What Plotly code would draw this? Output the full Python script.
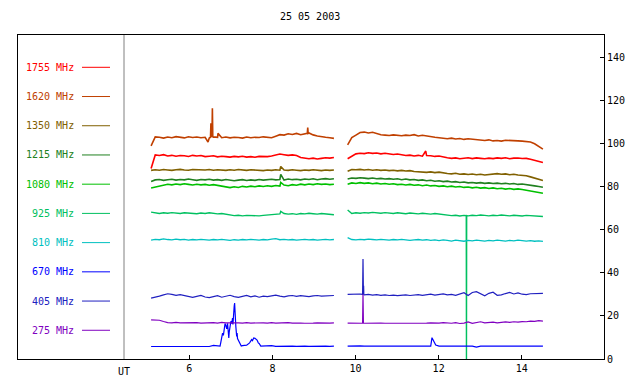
import plotly.graph_objects as go

# ---- time grids (UT hours) for the two observing segments ----
T1 = [round(5.08 + 0.1 * i, 2) for i in range(45)]
T2 = [round(9.81 + 0.1 * i, 2) for i in range(48)]

# ---- series (frequency labels, colours) ----
FREQS = ["1755 MHz", "1620 MHz", "1350 MHz", "1215 MHz", "1080 MHz",
         "925 MHz", "810 MHz", "670 MHz", "405 MHz", "275 MHz"]
COLORS = ["#ff0000", "#c04000", "#806000", "#208020", "#00c000",
          "#00c060", "#00c0c0", "#0000ff", "#2020c0", "#8000c0"]

V1_1755 = [88.5, 94.8, 94.5, 94.9, 94.3, 94.6, 94.2, 94.5, 94.4, 94.1, 94.6, 94.3, 94.5, 94.0, 94.2, 94.4, 93.9, 94.2, 94.0, 93.8, 94.1, 93.9, 94.2, 93.8, 94.0, 93.7, 94.1, 93.9, 94.0, 94.3, 94.8, 95.2, 94.9, 94.6, 94.8, 94.5, 93.6, 93.2, 93.0, 93.3, 92.9, 93.2, 93.5, 93.3, 93.6]
V2_1755 = [93.0, 94.2, 95.3, 95.6, 95.4, 95.8, 95.5, 95.7, 95.3, 95.6, 95.4, 95.0, 95.2, 94.8, 94.5, 94.7, 94.3, 94.6, 94.2, 94.5, 94.4, 94.1, 94.3, 93.8, 93.5, 93.2, 93.4, 93.0, 93.3, 93.5, 93.1, 93.4, 93.2, 93.0, 93.3, 93.1, 93.4, 93.2, 93.5, 93.0, 93.3, 93.4, 93.1, 93.2, 92.8, 92.3, 91.8, 91.3]
X_1755 = [(11.69, 96.6)]

V1_1620 = [99.0, 103.2, 103.0, 102.6, 103.1, 102.8, 103.3, 103.0, 102.7, 103.2, 102.9, 103.1, 102.8, 103.0, 102.6, 103.2, 103.0, 102.8, 103.1, 102.7, 103.0, 102.9, 102.6, 103.1, 102.8, 103.0, 102.9, 103.2, 103.0, 102.8, 103.5, 104.2, 104.0, 104.6, 104.3, 104.8, 104.2, 104.5, 105.0, 104.1, 103.6, 103.2, 103.0, 102.8, 102.5]
V2_1620 = [99.5, 102.8, 104.0, 105.2, 105.4, 105.0, 105.3, 104.6, 104.2, 104.0, 103.8, 104.1, 103.9, 103.7, 104.0, 103.8, 104.2, 103.6, 103.9, 103.5, 103.2, 103.0, 102.8, 102.5, 102.3, 102.6, 102.2, 102.4, 102.0, 102.3, 102.1, 101.8, 101.6, 101.5, 101.8, 101.3, 101.5, 101.2, 101.6, 101.4, 101.5, 101.3, 101.2, 101.0, 100.8, 100.0, 98.8, 97.5]
X_1620 = [(6.45, 100.8), (6.51, 103.0), (6.52, 109.5), (6.53, 103.0), (6.545, 103.0),
          (6.555, 116.5), (6.565, 103.0), (6.69, 104.8), (8.84, 104.8), (8.85, 107.5), (8.86, 104.8)]

V1_1350 = [87.6, 87.9, 87.7, 88.0, 87.8, 87.6, 87.9, 88.1, 87.8, 87.7, 88.0, 87.9, 87.6, 87.8, 88.0, 87.7, 87.9, 87.8, 87.6, 87.9, 87.7, 88.0, 87.8, 87.6, 87.9, 87.7, 87.8, 87.5, 87.8, 87.6, 87.9, 87.7, 87.8, 87.6, 87.9, 87.7, 87.5, 87.8, 87.6, 87.9, 87.7, 87.5, 87.8, 87.6, 87.8]
V2_1350 = [87.2, 88.0, 87.9, 88.1, 87.8, 88.0, 87.7, 87.9, 87.6, 87.8, 87.5, 87.7, 87.4, 87.6, 87.3, 87.5, 87.1, 86.9, 87.0, 86.7, 86.9, 86.6, 86.8, 86.4, 86.2, 86.0, 86.3, 85.8, 86.0, 85.7, 85.9, 85.6, 85.8, 85.5, 85.7, 85.9, 86.1, 85.8, 86.0, 85.6, 85.8, 85.5, 85.4, 85.1, 84.6, 84.0, 83.5, 82.9]
X_1350 = [(8.2, 89.4)]

V1_1215 = [82.5, 83.2, 83.4, 83.0, 83.3, 83.5, 83.1, 83.4, 83.2, 83.6, 83.3, 83.0, 83.4, 83.2, 83.5, 83.1, 83.3, 83.0, 83.4, 83.2, 82.8, 83.1, 83.3, 82.9, 83.2, 83.0, 83.4, 83.1, 83.3, 83.5, 83.2, 83.4, 83.1, 83.6, 83.3, 83.5, 83.2, 83.6, 83.4, 83.7, 83.3, 83.6, 83.8, 83.5, 83.7]
V2_1215 = [83.6, 84.1, 83.9, 84.2, 84.0, 83.8, 84.1, 83.7, 83.9, 83.6, 83.8, 83.5, 83.7, 83.3, 83.6, 83.2, 83.4, 83.0, 83.2, 82.8, 83.0, 82.6, 82.8, 82.4, 82.6, 82.2, 82.4, 82.0, 82.2, 81.8, 82.0, 81.7, 81.9, 81.6, 81.8, 81.5, 81.7, 81.4, 81.6, 81.3, 81.5, 81.1, 81.3, 80.9, 80.7, 80.4, 80.1, 79.8]
X_1215 = [(8.2, 85.8)]

V1_1080 = [79.4, 79.8, 80.2, 80.8, 81.2, 80.9, 81.3, 81.0, 81.4, 81.1, 80.8, 81.2, 80.9, 81.1, 80.7, 81.0, 80.6, 80.2, 79.8, 79.6, 80.0, 79.7, 80.2, 79.9, 80.3, 80.0, 80.4, 80.1, 80.5, 80.2, 80.6, 80.3, 80.8, 80.5, 81.0, 80.7, 81.2, 80.9, 81.3, 81.0, 81.4, 81.1, 81.3, 81.0, 81.2]
V2_1080 = [81.2, 81.8, 81.5, 81.9, 81.6, 81.8, 81.4, 81.7, 81.3, 81.5, 81.2, 81.4, 81.0, 81.2, 80.8, 81.1, 80.7, 80.9, 80.5, 80.8, 80.4, 80.6, 80.2, 80.4, 80.0, 80.3, 79.9, 80.1, 79.7, 79.9, 79.5, 79.8, 79.4, 79.6, 79.2, 79.5, 79.1, 79.3, 78.9, 79.2, 78.8, 79.0, 78.7, 78.4, 78.0, 77.6, 77.2, 77.0]
X_1080 = [(8.2, 82.0)]

V1_925 = [68.2, 67.8, 67.6, 67.9, 67.7, 68.0, 67.8, 67.6, 67.9, 67.7, 67.8, 67.5, 67.8, 67.6, 67.9, 67.7, 67.4, 67.6, 67.2, 66.9, 66.6, 66.8, 66.5, 66.7, 66.6, 66.8, 66.5, 66.7, 66.9, 66.8, 67.0, 67.4, 67.6, 67.3, 67.5, 67.2, 67.6, 67.4, 67.7, 67.5, 67.3, 67.6, 67.4, 67.2, 67.0]
V2_925 = [69.2, 67.6, 67.9, 67.7, 68.0, 67.8, 68.1, 67.9, 67.7, 68.0, 67.8, 67.6, 67.9, 67.7, 67.5, 67.8, 67.6, 67.4, 67.7, 67.5, 67.3, 67.6, 67.4, 67.1, 66.9, 66.6, 66.8, 66.4, 66.7, 66.5, 66.8, 66.6, 66.9, 66.7, 66.5, 66.8, 66.6, 66.9, 66.7, 66.5, 66.8, 66.6, 66.4, 66.7, 66.5, 66.3, 66.4, 66.2]
X_925 = [(8.2, 68.6), (12.665, 66.6), (12.67, 0.0), (12.675, 66.6)]

V1_810 = [55.2, 55.6, 55.4, 55.8, 55.5, 55.3, 55.7, 55.4, 55.6, 55.2, 55.5, 55.3, 55.6, 55.4, 55.2, 55.5, 55.3, 55.6, 55.4, 55.1, 55.4, 55.2, 55.5, 55.3, 55.6, 55.4, 55.2, 55.5, 55.3, 55.7, 55.9, 55.4, 55.6, 55.3, 55.5, 55.2, 55.4, 55.6, 55.3, 55.5, 55.2, 55.4, 55.6, 55.3, 55.5]
V2_810 = [56.4, 55.5, 55.3, 55.6, 55.4, 55.7, 55.5, 55.3, 55.6, 55.4, 55.2, 55.5, 55.3, 55.6, 55.4, 55.1, 55.3, 55.5, 55.2, 55.4, 55.1, 55.3, 55.0, 55.3, 55.1, 54.8, 55.2, 55.0, 54.7, 55.1, 54.9, 55.2, 55.0, 54.8, 55.1, 54.9, 55.2, 55.0, 54.8, 55.1, 54.9, 55.2, 55.0, 54.8, 55.0, 54.7, 54.9, 54.6]
X_810 = []

V1_670 = [5.8, 5.8, 5.9, 5.8, 5.8, 5.9, 5.8, 5.8, 5.8, 5.9, 5.8, 5.8, 5.8, 5.9, 5.8, 6.3, 5.9, 10.5, 15.5, 16.2, 24.5, 8.6, 6.2, 6.4, 8.2, 9.6, 7.2, 6.1, 6.0, 6.2, 5.9, 6.0, 6.1, 5.9, 6.0, 5.9, 6.1, 6.0, 5.9, 6.0, 6.1, 5.9, 6.0, 5.9, 6.0]
V2_670 = [6.0, 6.1, 6.0, 6.1, 6.0, 6.0, 6.1, 6.0, 6.0, 6.0, 6.0, 6.0, 6.0, 6.1, 6.0, 6.0, 6.0, 6.0, 6.0, 6.0, 6.0, 6.8, 6.0, 6.0, 6.0, 6.0, 6.0, 6.0, 6.0, 6.0, 6.0, 5.5, 6.0, 6.0, 6.0, 6.0, 6.0, 6.0, 6.0, 6.0, 6.0, 6.0, 6.0, 6.0, 6.0, 6.0, 6.0, 6.0]
X_670 = [(6.74, 6.0), (6.76, 8.0), (6.80, 12.0), (6.82, 11.0), (6.84, 14.5), (6.86, 16.5),
         (6.90, 14.0), (6.92, 16.6), (6.94, 11.0), (6.95, 9.8), (6.96, 12.5), (7.00, 17.5),
         (7.02, 16.5), (7.04, 19.0), (7.05, 16.0), (7.06, 22.0), (7.07, 18.0), (7.09, 26.0),
         (7.10, 20.0), (7.11, 24.0), (7.12, 15.0), (7.14, 10.5), (7.15, 12.0), (7.16, 9.5),
         (7.20, 8.0), (7.22, 7.0), (7.25, 6.0), (7.45, 7.5), (7.50, 9.0), (7.52, 8.5),
         (7.55, 9.8), (7.60, 9.2), (7.63, 8.8), (7.66, 7.5), (7.72, 6.0),
         (11.84, 9.9), (11.86, 9.0), (11.88, 8.0), (11.90, 7.2), (11.93, 6.5)]

V1_405 = [28.3, 28.6, 29.2, 29.8, 30.3, 30.0, 29.6, 29.9, 29.4, 29.0, 28.6, 29.1, 29.5, 28.8, 28.5, 29.0, 29.4, 28.7, 29.2, 29.6, 29.0, 28.6, 29.1, 29.5, 28.9, 29.3, 28.7, 29.2, 29.0, 29.4, 29.7, 29.2, 28.9, 29.3, 29.5, 29.1, 29.4, 29.2, 29.0, 29.3, 29.5, 29.2, 29.4, 29.3, 29.5]
V2_405 = [30.0, 30.1, 29.9, 30.2, 29.8, 30.0, 29.7, 29.9, 29.6, 29.8, 29.5, 29.7, 29.4, 29.6, 29.8, 29.5, 29.7, 29.9, 29.6, 29.8, 30.1, 29.7, 29.9, 30.2, 29.8, 30.0, 29.6, 30.3, 30.8, 29.5, 30.9, 31.3, 30.2, 29.4, 30.5, 31.0, 29.6, 29.8, 30.4, 30.9, 30.2, 30.7, 30.1, 29.9, 30.3, 30.4, 30.2, 30.5]
X_405 = [(10.17, 30.0), (10.18, 46.5), (10.19, 30.2), (10.195, 34.0), (10.20, 30.0)]

V1_275 = [18.2, 18.1, 18.0, 17.4, 16.9, 16.8, 17.0, 16.8, 16.9, 16.7, 16.8, 16.9, 16.7, 16.8, 16.6, 16.9, 16.7, 17.0, 16.8, 16.9, 16.7, 16.8, 16.7, 16.9, 16.7, 16.8, 16.6, 16.8, 16.7, 16.9, 16.7, 16.8, 16.7, 16.9, 16.7, 16.8, 16.7, 16.6, 16.8, 16.7, 16.8, 16.7, 16.8, 16.7, 16.8]
V2_275 = [16.7, 16.6, 16.7, 16.6, 16.6, 16.7, 16.6, 16.6, 16.7, 16.6, 16.6, 16.6, 16.7, 16.6, 16.4, 16.6, 16.7, 16.6, 16.5, 16.7, 16.8, 16.6, 16.7, 16.9, 16.8, 16.6, 16.9, 16.5, 16.7, 17.2, 16.6, 16.9, 17.3, 16.8, 16.9, 17.1, 16.8, 17.0, 17.2, 17.0, 17.3, 17.1, 17.4, 17.3, 17.6, 17.5, 17.8, 17.6]
X_275 = [(10.17, 16.6), (10.18, 30.0), (10.19, 16.6)]

SERIES = [
    (V1_1755, V2_1755, X_1755), (V1_1620, V2_1620, X_1620), (V1_1350, V2_1350, X_1350),
    (V1_1215, V2_1215, X_1215), (V1_1080, V2_1080, X_1080), (V1_925, V2_925, X_925),
    (V1_810, V2_810, X_810), (V1_670, V2_670, X_670), (V1_405, V2_405, X_405),
    (V1_275, V2_275, X_275),
]
WIDTHS = [1.6, 1.6, 1.6, 1.6, 1.6, 1.4, 1.3, 1.2, 1.2, 1.2]

X_TICKS = [6, 8, 10, 12, 14]
Y_TICKS = [0, 20, 40, 60, 80, 100, 120, 140]
TITLE = "25 05 2003"


def build(v1, v2, extra):
    p1 = sorted(list(zip(T1, v1)) + [p for p in extra if p[0] < 9.65])
    p2 = sorted(list(zip(T2, v2)) + [p for p in extra if p[0] >= 9.65])
    xs = [p[0] for p in p1] + [None] + [p[0] for p in p2]
    ys = [p[1] for p in p1] + [None] + [p[1] for p in p2]
    return xs, ys


FONT = "DejaVu Sans Mono"
fig = go.Figure()
for name, col, w, (v1, v2, ex) in zip(FREQS, COLORS, WIDTHS, SERIES):
    xs, ys = build(v1, v2, ex)
    fig.add_trace(go.Scatter(x=xs, y=ys, mode="lines", name=name,
                             line=dict(color=col, width=w), connectgaps=False,
                             showlegend=False, hoverinfo="skip"))

# plot area geometry (pixels)
L, R, T, B = 18, 36, 35, 25
W, H = 640, 384
PW, PH = W - L - R, H - T - B


def px_x(px):
    return (px - L) / PW


def px_y(py):
    return (H - B - py) / PH


shapes = [dict(type="line", xref="paper", yref="paper", x0=px_x(124), x1=px_x(124),
               y0=0, y1=1, line=dict(color="#808080", width=1))]
annotations = []
for i, (name, col) in enumerate(zip(FREQS, COLORS)):
    py = 67.3 + 29.22 * i
    shapes.append(dict(type="line", xref="paper", yref="paper",
                       x0=px_x(82), x1=px_x(110), y0=px_y(py), y1=px_y(py),
                       line=dict(color=col, width=1)))
    annotations.append(dict(text=name, xref="paper", yref="paper", x=px_x(76),
                            y=px_y(py), xanchor="right", yanchor="middle",
                            showarrow=False, font=dict(family=FONT, size=10, color=col)))
annotations.append(dict(text="UT", xref="paper", yref="paper", x=px_x(124), y=px_y(371),
                        xanchor="center", yanchor="middle", showarrow=False,
                        font=dict(family=FONT, size=10, color="black")))
annotations.append(dict(text=TITLE, xref="paper", yref="paper", x=px_x(310), y=px_y(17),
                        xanchor="center", yanchor="middle", showarrow=False,
                        font=dict(family=FONT, size=10, color="black")))

fig.update_layout(
    width=W, height=H, margin=dict(l=L, r=R, t=T, b=B, autoexpand=False),
    paper_bgcolor="white", plot_bgcolor="white",
    font=dict(family=FONT, size=10, color="black"),
    shapes=shapes, annotations=annotations, showlegend=False,
    xaxis=dict(range=[1.877, 15.98], tickvals=X_TICKS, ticks="inside", ticklen=4,
               tickcolor="black", showgrid=False, zeroline=False, showline=True,
               linecolor="black", linewidth=1, mirror=True,
               tickfont=dict(family=FONT, size=10, color="black")),
    yaxis=dict(range=[0, 150.5], tickvals=Y_TICKS, side="right", ticks="inside",
               ticklen=4, tickcolor="black", showgrid=False, zeroline=False,
               showline=True, linecolor="black", linewidth=1, mirror=True,
               tickfont=dict(family=FONT, size=10, color="black")),
)

fig.write_html("out.html", config={"displayModeBar": False},
               post_script="document.body.style.margin='0';document.body.style.padding='0';")
